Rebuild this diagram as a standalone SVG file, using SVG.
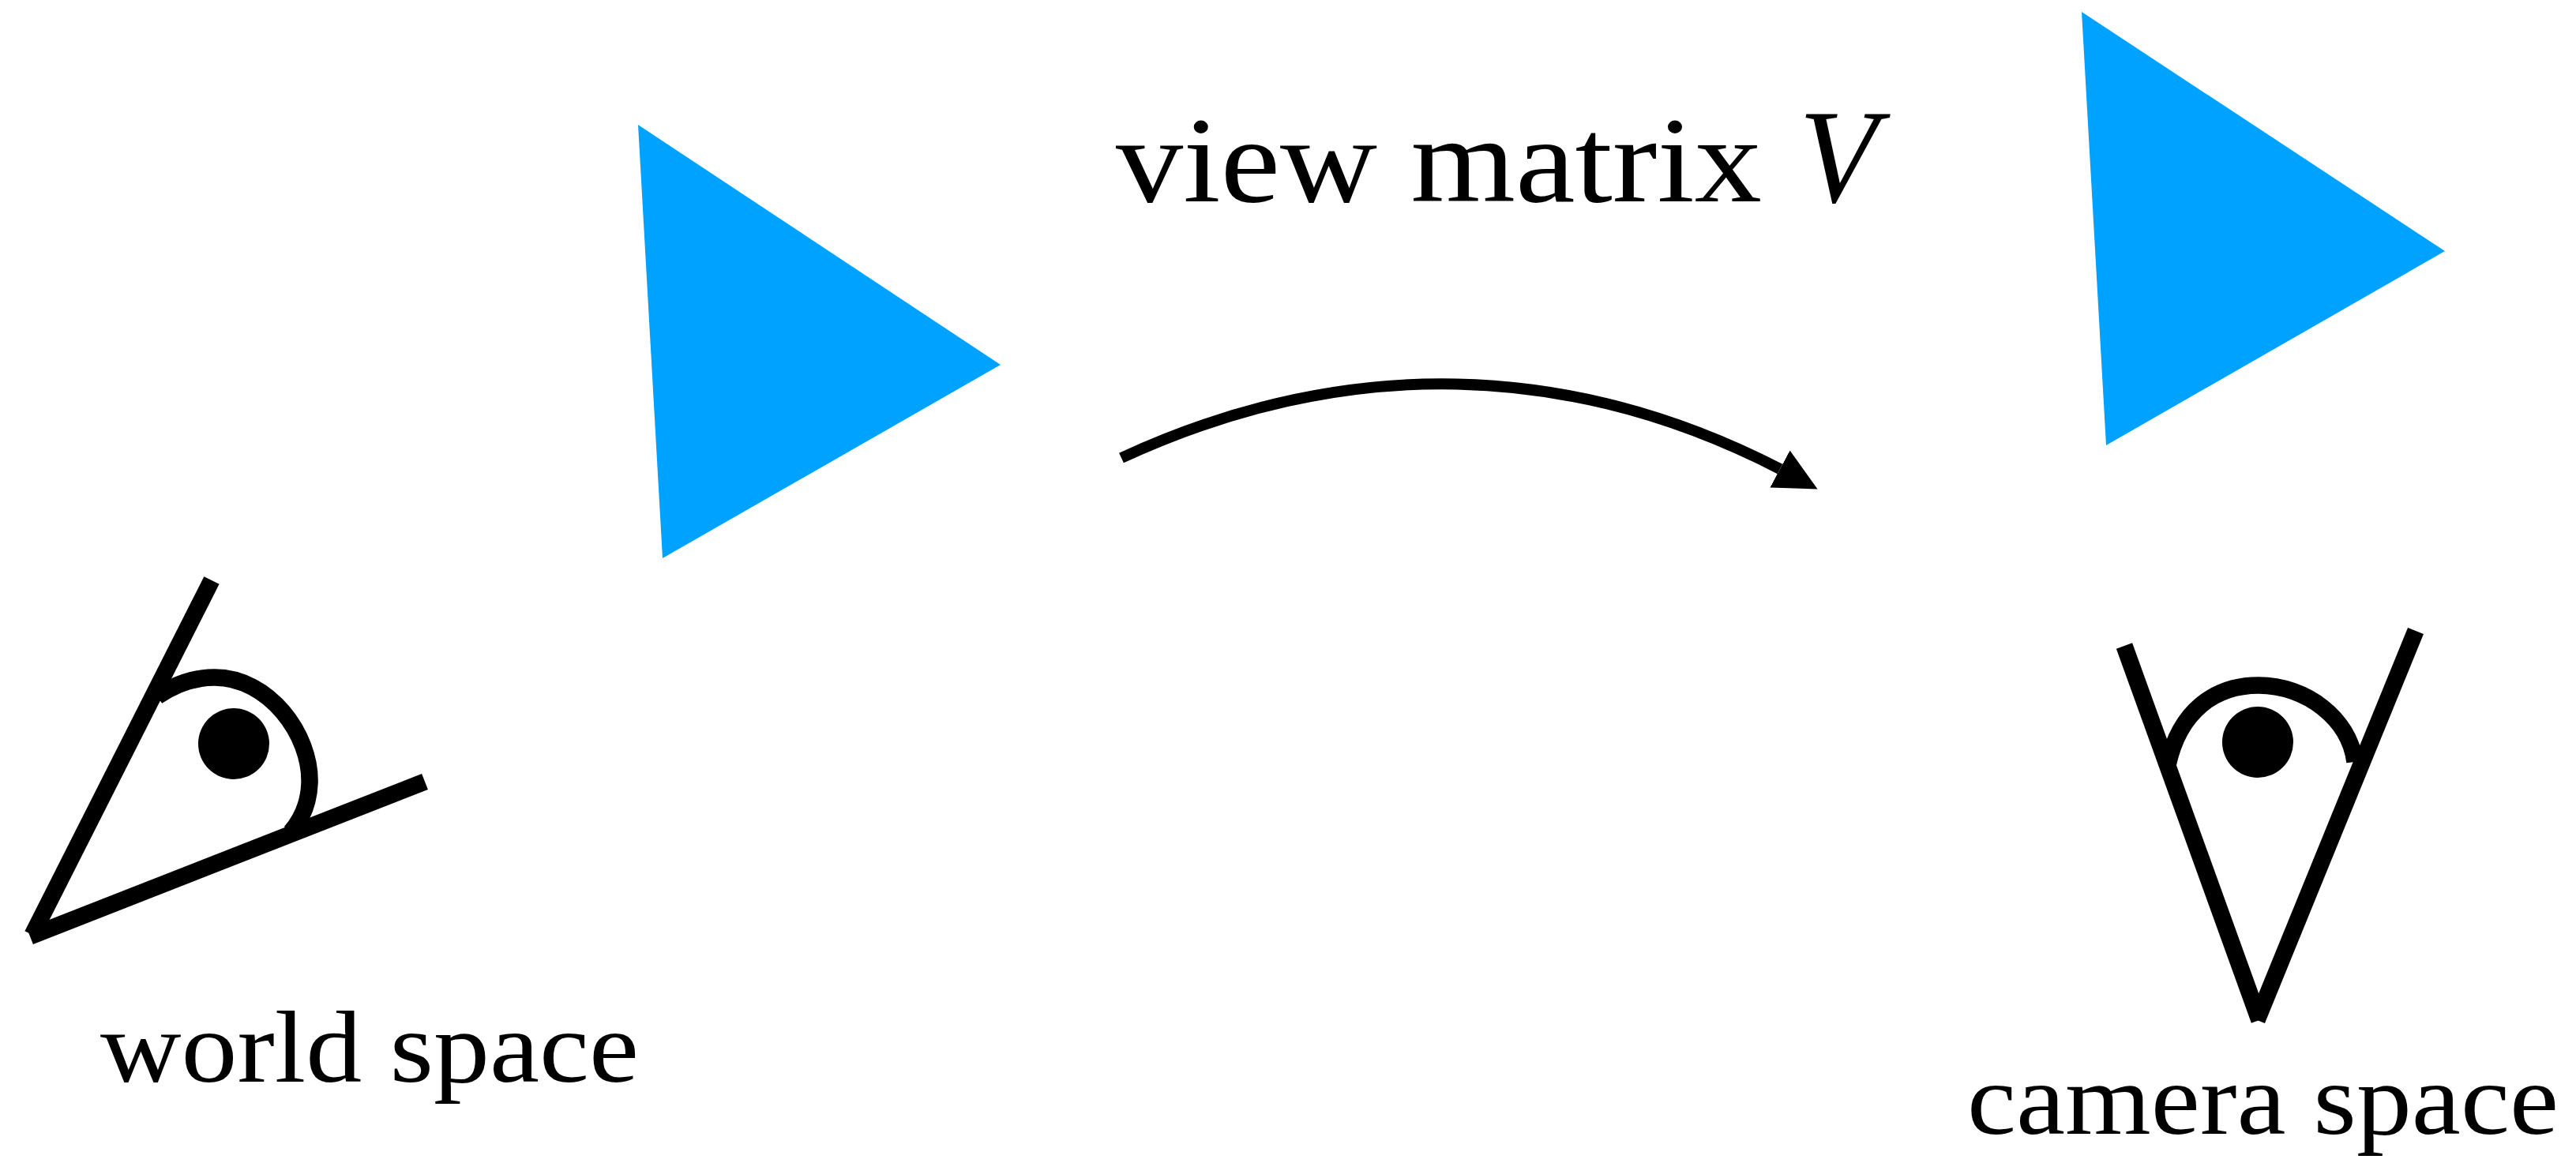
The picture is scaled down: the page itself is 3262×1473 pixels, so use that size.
<svg xmlns="http://www.w3.org/2000/svg" width="3262" height="1473" viewBox="0 0 3262 1473">
<style>
.tri{fill:#00a2ff}
.ln{fill:none;stroke:#000;stroke-width:21.5}
.ar{fill:none;stroke:#000;stroke-width:14}
.lb{font-family:"Liberation Serif","Times New Roman",serif;fill:#000}
</style>
<defs><marker id="ah" markerUnits="userSpaceOnUse" markerWidth="58" markerHeight="56" refX="0" refY="26.6" orient="28.2"><path d="M0 0L54 26.6L0 53.2Z"/></marker></defs>
<rect width="3262" height="1473" fill="#fff"/>
<g id="triangle-world"><polygon class="tri" points="808,158 1267,462 839,707"/></g>
<g id="triangle-camera"><polygon class="tri" points="2636,15 3096,318 2667,564"/></g>
<g id="eye-world">
<path class="ln" d="M268,735L41,1184"/><path class="ln" d="M38,1186L538,990"/>
<path class="ln" d="M199,882C222,866 248,858 272,858C340,858 394,930 392,992C391,1018 382,1038 368,1054"/>
<circle cx="296" cy="942" r="45"/>
</g>
<g id="eye-camera">
<path class="ln" d="M2690,818L2861,1292"/><path class="ln" d="M3059,799L2858,1292"/>
<path class="ln" d="M2745,969C2760,900 2805,868 2860,868C2920,868 2975,910 2982,965"/>
<circle cx="2859" cy="940" r="45"/>
</g>
<g id="connectors"><path class="ar" d="M1420,580C1705,448 1990,458 2254,594" marker-end="url(#ah)"/></g>
<g id="label-view"><text class="lb" x="1413" y="255" font-size="155" textLength="818" lengthAdjust="spacingAndGlyphs">view matrix</text><text class="lb" x="2278" y="255" font-size="170" font-style="italic" textLength="100" lengthAdjust="spacingAndGlyphs">V</text></g>
<g id="label-world"><text class="lb" x="127" y="1370" font-size="130" textLength="682" lengthAdjust="spacingAndGlyphs">world space</text></g>
<g id="label-camera"><text class="lb" x="2491" y="1436" font-size="130" textLength="749" lengthAdjust="spacingAndGlyphs">camera space</text></g>
</svg>
